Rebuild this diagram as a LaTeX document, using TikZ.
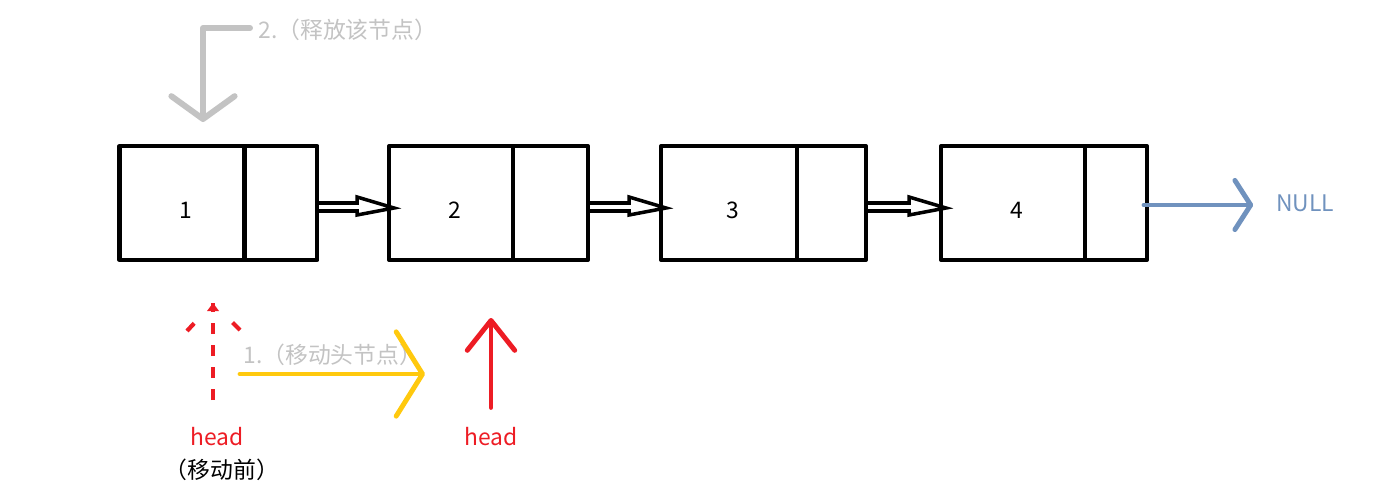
\documentclass[tikz,border=0pt]{standalone}
\usepackage{fontspec}
\newfontfamily\cjk{Noto Sans CJK SC}
\usetikzlibrary{calc,arrows.meta}
\definecolor{freegray}{HTML}{C3C3C3}
\definecolor{headred}{HTML}{ED1C24}
\definecolor{moveyellow}{HTML}{FFC90E}
\definecolor{nullblue}{HTML}{7092BE}

\begin{document}
\begin{tikzpicture}[x=0.02cm,y=-0.02cm,line cap=round,line join=round,
    font=\cjk\fontsize{13}{15}\selectfont,
    datapart/.style={draw,line width=2.3pt,minimum height=2.28cm,inner sep=0pt,outer sep=0pt},
    ptrpart/.style={datapart,anchor=west},
    nextlink/.style={line width=2pt,line join=miter},
    oldlink/.style={headred,line width=2.4pt,line cap=butt},
    label/.style={inner sep=0pt}]
  \useasboundingbox (0,0) rectangle (1393,503);

  % The list 1 -> 2 -> 3 -> 4 -> NULL
  \foreach \i/\xc/\dw/\pw in {1/182/2.5/1.46,2/451/2.48/1.5,3/729/2.72/1.38,4/1013/2.88/1.24}{
    \node[datapart,minimum width=\dw cm] (n\i) at (\xc,203) {};
    \node[ptrpart,minimum width=\pw cm] (p\i) at (n\i.east) {};
    \node[label] (d\i) at ($(n\i.center)+(4,7)$) {\i};
  }
  \foreach \a/\b in {1/2,2/3,3/4}
    \draw[nextlink] ($(p\a.east)+(0,0)$) -- ($(n\b.west)+(-32,0)$)
      -- ($(n\b.west)+(-32,-6)$) -- ($(n\b.west)+(5,5)$)
      -- ($(n\b.west)+(-32,12)$) -- ($(n\b.west)+(-32,8)$) -- ($(p\a.east)+(0,8)$);
  \node[label,nullblue,anchor=west] (nul) at (1276,203) {NULL};
  \draw[nullblue,line width=2.8pt,shorten >=13pt,
        -{Straight Barb[round,length=9pt,width=28pt]}]
    ($(p4.east)+(-3,2)$) -- (nul.west |- 0,205);

  % 2. free the old first node
  \node[label,freegray,anchor=west] (free) at (258,30) {2.（释放该节点）};
  \coordinate (freetip) at (203,122);
  \draw[freegray,line width=3.4pt,-{Straight Barb[round,length=13pt,width=36pt]}]
    (free.west) ++(-8,-2) -| (freetip);

  % 1. move head one node on
  \node[label,headred] (oldhead) at (217,437) {head};
  \node[label,anchor=north] (before) at ($(oldhead.south)+(5,12)$) {（移动前）};
  \coordinate (oldtip) at (213,303);
  \draw[oldlink,dash pattern=on 6.5pt off 6pt] (213,400) -- (oldtip);
  \draw[oldlink,dash pattern=on 6pt off 30pt] (oldtip) ++(-26,28) -- (oldtip);
  \draw[oldlink,dash pattern=on 6pt off 30pt] (oldtip) ++(27,27) -- (oldtip);
  \fill[headred] (oldtip) ++(-6,8) -- (oldtip) -- ++(6,8) -- cycle;

  \node[label,freegray,anchor=west] (move) at (243,355) {1.（移动头节点）};
  \coordinate (movefrom) at (240,374);
  \coordinate (moveto) at (425,374);
  \draw[moveyellow,line width=2.8pt,-{Straight Barb[round,length=15pt,width=48pt]}]
    (movefrom) -- (moveto);

  \node[label,headred] (newhead) at (491,437) {head};
  \coordinate (newtip) at (491,318);
  \draw[headred,line width=2.8pt,-{Straight Barb[round,length=17pt,width=27pt]}]
    (newhead.north) ++(0,-20) -- (newtip);
\end{tikzpicture}
\end{document}
